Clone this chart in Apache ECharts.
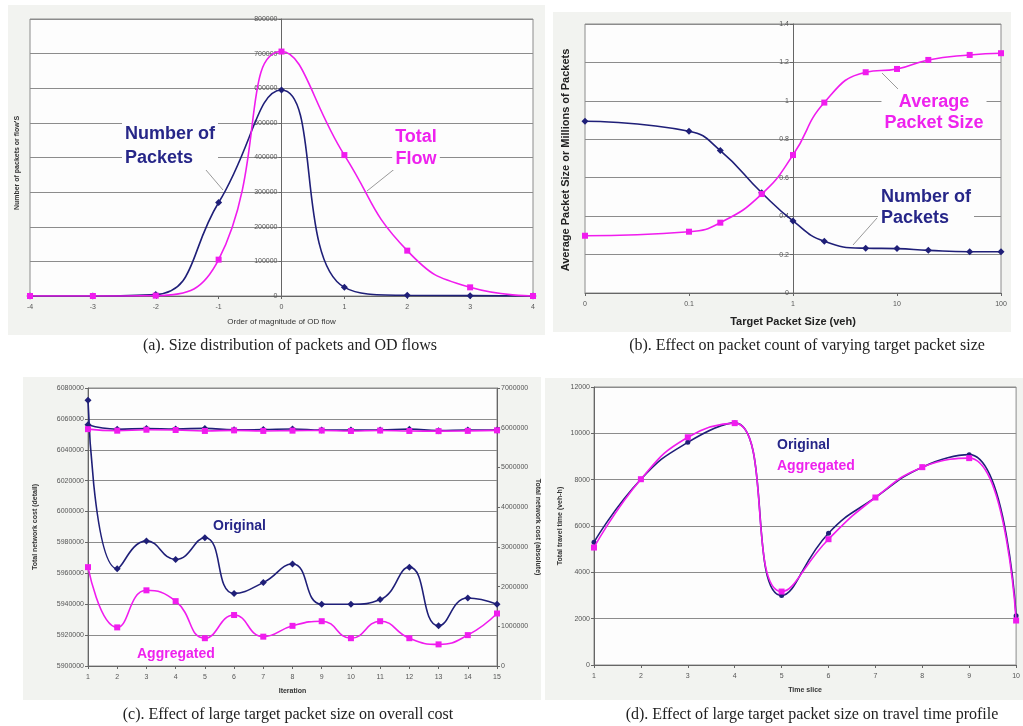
<!DOCTYPE html>
<html><head><meta charset="utf-8">
<script src="https://cdn.jsdelivr.net/npm/echarts@6/dist/echarts.min.js"></script>
<style>
html,body{margin:0;padding:0;background:#fff;}
#wrap{position:relative;width:1023px;height:726px;overflow:hidden;}
.bg{position:absolute;background:#f2f3f0;}
#chart{position:absolute;left:0;top:0;width:1023px;height:726px;}
</style></head><body>
<div id="wrap">
<div class="bg" style="left:8px;top:5px;width:537px;height:330px"></div>
<div class="bg" style="left:553px;top:12px;width:458px;height:320px"></div>
<div class="bg" style="left:23px;top:377px;width:518px;height:323px"></div>
<div class="bg" style="left:545px;top:378px;width:478px;height:322px"></div>
<div id="chart"></div>
</div>
<script>
// ---------- data ----------
const aX = [-4, -3, -2, -1, 0, 1, 2, 3, 4];
const aPackets = [0, 0, 4000, 270000, 595000, 25000, 2000, 1000, 0];
const aFlow = [0, 0, 1000, 105000, 706000, 407000, 131000, 25000, 0];

const bX = [0.01, 0.1, 0.2, 0.5, 1, 2, 5, 10, 20, 50, 100];
const bTickLabels = ['0', '0.1', '1', '10', '100'];
const bPackets = [0.894, 0.842, 0.741, 0.522, 0.375, 0.269, 0.233, 0.231, 0.222, 0.215, 0.215];
const bSize = [0.298, 0.319, 0.366, 0.515, 0.718, 0.991, 1.149, 1.166, 1.213, 1.239, 1.248];

const cIter = [1, 2, 3, 4, 5, 6, 7, 8, 9, 10, 11, 12, 13, 14, 15];
const cOriginal = [6072000, 5963000, 5981000, 5969000, 5983000, 5947000, 5954000, 5966000, 5940000, 5940000, 5943000, 5964000, 5926000, 5944000, 5940000];
const cAggregated = [5964000, 5925000, 5949000, 5942000, 5918000, 5933000, 5919000, 5926000, 5929000, 5918000, 5929000, 5918000, 5914000, 5920000, 5934000];

const dSlice = [1, 2, 3, 4, 5, 6, 7, 8, 9, 10];
const dOriginal = [5300, 8020, 9610, 10450, 3000, 5690, 7230, 8540, 9080, 2130];
const dAggregated = [5070, 8020, 9830, 10440, 3170, 5430, 7230, 8540, 8930, 1920];

const captions = [
  '(a). Size distribution of packets and OD flows',
  '(b). Effect on packet count of varying target packet size',
  '(c). Effect of large target packet size on overall cost',
  '(d). Effect of large target packet size on travel time profile'
];

// ---------- style ----------
const NAVY = '#1f1f78', MAG = '#f01cee', NAVYT = '#262688', MAGT = '#ee22ee';
const GRIDC = '#8c8c8c', AX = '#666', LBL = '#555';
const FONT = '"Liberation Sans", Arial, sans-serif';
const SERIF = '"Liberation Serif", "Times New Roman", serif';

const pairs = (xs, ys) => xs.map((x, i) => [x, ys[i]]);
const plain = v => String(v);

const gA = {left: 30, top: 19, width: 503, height: 277};
const gB = {left: 585, top: 24, width: 416, height: 269};
const gC = {left: 88, top: 388, width: 409, height: 278};
const gD = {left: 594, top: 387, width: 427, height: 278};
const grids = [gA, gB, gC, gD].map(g => Object.assign({show: true, backgroundColor: '#fdfdfd', borderColor: GRIDC, borderWidth: 1, containLabel: false}, g));

function axis(extra) {
  return Object.assign({
    type: 'value',
    axisLine: {show: true, onZero: false, lineStyle: {color: AX, width: 1}},
    axisTick: {show: true, length: 3, lineStyle: {color: AX}},
    axisLabel: {fontSize: 7, color: LBL, fontFamily: FONT, margin: 4, formatter: plain},
    splitLine: {show: false},
    nameLocation: 'middle',
    nameTextStyle: {fontSize: 8, color: '#333', fontFamily: FONT}
  }, extra);
}
const split = {show: true, lineStyle: {color: GRIDC, width: 1}};
const xLbl = {fontSize: 7, color: LBL, fontFamily: FONT, margin: 8, formatter: plain};

const xAxis = [
  axis({gridIndex: 0, min: -4, max: 4, interval: 1, axisLabel: xLbl,
        name: 'Order of magnitude of OD flow', nameGap: 22}),
  axis({gridIndex: 1, type: 'log', logBase: 10, min: 0.01, max: 100,
        axisLabel: Object.assign({}, xLbl, {formatter: v => bTickLabels[Math.round(Math.log10(v)) + 2]}),
        name: 'Target Packet Size (veh)', nameGap: 23,
        nameTextStyle: {fontSize: 11, fontWeight: 'bold', color: '#222', fontFamily: FONT}}),
  axis({gridIndex: 2, min: 1, max: 15, interval: 1, axisLabel: xLbl, name: 'Iteration', nameGap: 22,
        nameTextStyle: {fontSize: 7, fontWeight: 'bold', color: '#333', fontFamily: FONT}}),
  axis({gridIndex: 3, min: 1, max: 10, interval: 1, axisLabel: xLbl, name: 'Time slice', nameGap: 22,
        nameTextStyle: {fontSize: 7, fontWeight: 'bold', color: '#333', fontFamily: FONT}})
];

const yAxis = [
  axis({gridIndex: 0, min: 0, max: 800000, interval: 100000, splitLine: split,
        offset: -gA.width / 2}),
  axis({gridIndex: 1, min: 0, max: 1.4, interval: 0.2, splitLine: split,
        offset: -gB.width / 2,
        axisLabel: {fontSize: 7, color: LBL, fontFamily: FONT, margin: 4,
                    formatter: v => String(Math.round(v * 10) / 10)}}),
  axis({gridIndex: 2, min: 5900000, max: 6080000, interval: 20000, splitLine: split,
        name: 'Total network cost (detail)', nameGap: 49,
        nameTextStyle: {fontSize: 7, fontWeight: 'bold', color: '#333', fontFamily: FONT}}),
  axis({gridIndex: 2, position: 'right', min: 0, max: 7000000, interval: 1000000,
        name: 'Total network cost (absolute)', nameGap: 37, nameRotate: -90,
        nameTextStyle: {fontSize: 7, fontWeight: 'bold', color: '#333', fontFamily: FONT}}),
  axis({gridIndex: 3, min: 0, max: 12000, interval: 2000, splitLine: split,
        name: 'Total travel time (veh-h)', nameGap: 30,
        nameTextStyle: {fontSize: 7, fontWeight: 'bold', color: '#333', fontFamily: FONT}})
];

function line(name, xi, yi, data, color, symbol, size, z) {
  return {
    type: 'line', name, xAxisIndex: xi, yAxisIndex: yi, data,
    smooth: 0.5, symbol, symbolSize: size, showSymbol: true,
    lineStyle: {color, width: 1.6}, itemStyle: {color}, z
  };
}

const series = [
  line('Number of Packets', 0, 0, pairs(aX, aPackets), NAVY, 'diamond', 7, 3),
  line('Total Flow', 0, 0, pairs(aX, aFlow), MAG, 'rect', 6, 4),
  line('Number of Packets', 1, 1, pairs(bX, bPackets), NAVY, 'diamond', 7, 3),
  line('Average Packet Size', 1, 1, pairs(bX, bSize), MAG, 'rect', 6, 4),
  line('Original (absolute)', 2, 3, pairs(cIter, cOriginal), NAVY, 'diamond', 7, 3),
  line('Aggregated (absolute)', 2, 3, pairs(cIter, cAggregated), MAG, 'rect', 6, 4),
  line('Original', 2, 2, pairs(cIter, cOriginal), NAVY, 'diamond', 7, 3),
  line('Aggregated', 2, 2, pairs(cIter, cAggregated), MAG, 'rect', 6, 4),
  line('Original', 3, 4, pairs(dSlice, dOriginal), NAVY, 'circle', 5, 3),
  line('Aggregated', 3, 4, pairs(dSlice, dAggregated), MAG, 'rect', 6, 4)
];

function txt(text, x, y, opts) {
  return {type: 'text', z: 100, x, y, rotation: opts.rotation || 0,
    style: Object.assign({text, fill: '#222', font: '16px ' + SERIF, align: 'center', verticalAlign: 'middle'}, opts.style || {})};
}
function lead(x1, y1, x2, y2) {
  return {type: 'line', z: 99, shape: {x1, y1, x2, y2}, style: {stroke: '#9a9a9a', lineWidth: 1}};
}
const ann = (text, x, y, color, size, align, lh) => txt(text, x, y, {style: {
  fill: color, font: 'bold ' + size + 'px ' + FONT, align, verticalAlign: 'top', lineHeight: lh,
  backgroundColor: '#fdfdfd', padding: [0, 3]}});

const graphic = [
  txt(captions[0], 290, 346, {}),
  txt(captions[1], 807, 346, {}),
  txt(captions[2], 288, 715, {}),
  txt(captions[3], 812, 715, {}),
  txt("Number of packets or flow'S", 17, 163, {rotation: Math.PI / 2, style: {font: 'bold 7px ' + FONT, fill: '#333'}}),
  txt('Average Packet Size or Millions of Packets', 566, 160, {rotation: Math.PI / 2, style: {font: 'bold 11px ' + FONT, fill: '#222'}}),
  ann('Number of\nPackets', 122, 122, NAVYT, 18, 'left', 24),
  ann('Total\nFlow', 416, 126, MAGT, 18, 'center', 22),
  ann('Average\nPacket Size', 934, 92, MAGT, 18, 'center', 21),
  ann('Number of\nPackets', 878, 187, NAVYT, 18, 'left', 21),
  ann('Original', 210, 518, NAVYT, 14, 'left', 16),
  ann('Aggregated', 134, 646, MAGT, 14, 'left', 16),
  ann('Original', 774, 437, NAVYT, 14, 'left', 16),
  ann('Aggregated', 774, 458, MAGT, 14, 'left', 16),
  lead(200, 163, 223, 190),
  lead(397, 167, 367, 191),
  lead(898, 89, 882, 73),
  lead(877, 218, 853, 245)
];

const chart = echarts.init(document.getElementById('chart'), null, {renderer: 'canvas'});
chart.setOption({animation: false, backgroundColor: 'transparent', grid: grids, xAxis, yAxis, series, graphic});
</script>
</body></html>
